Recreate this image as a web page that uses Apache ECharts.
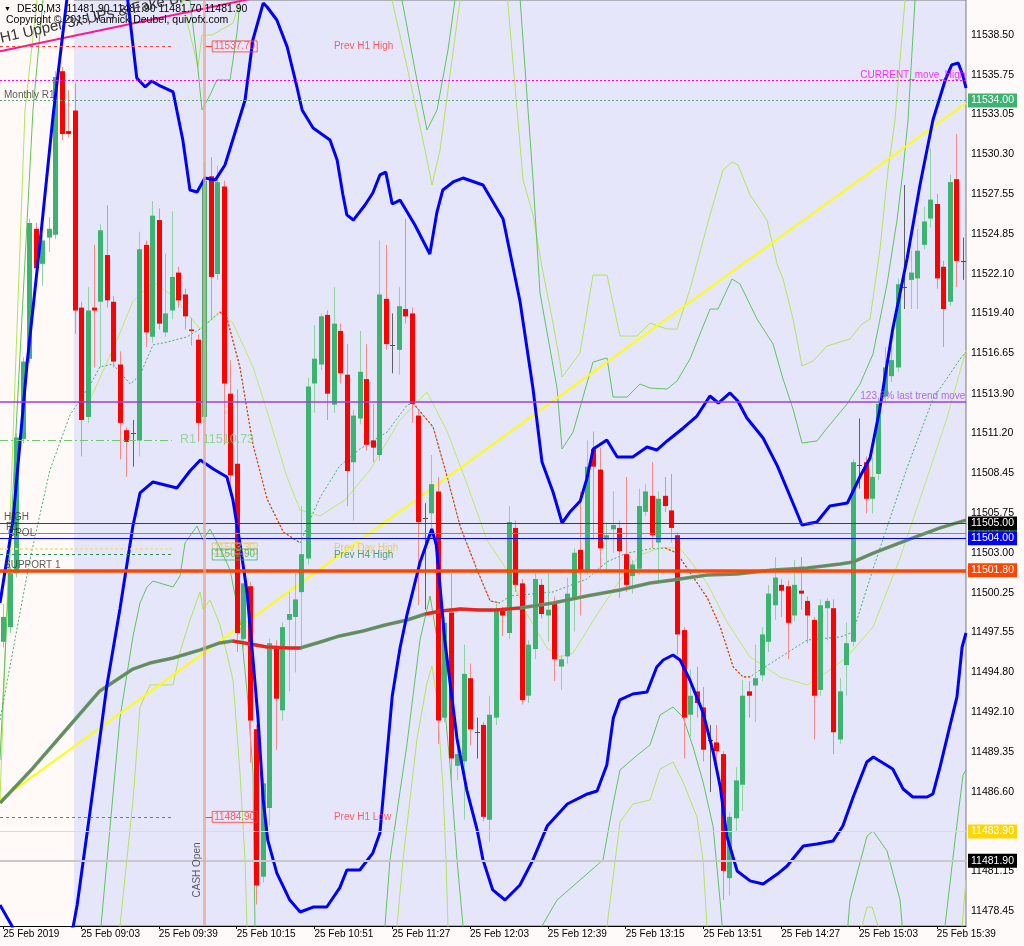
<!DOCTYPE html>
<html><head><meta charset="utf-8">
<script src="https://cdn.jsdelivr.net/npm/echarts@6/dist/echarts.min.js"></script>
<style>html,body{margin:0;padding:0;background:#FFFAFA}#c{width:1024px;height:946px}</style>
</head><body><div id="c"></div>
<script>
// ---------------- DATA ----------------
const barCount = 149;
const firstBarMinutes = 8 * 60 + 27;   // 08:27, M3 bars
const barStepMinutes = 3;
const xTickLabels = ['25 Feb 2019','25 Feb 09:03','25 Feb 09:39','25 Feb 10:15','25 Feb 10:51','25 Feb 11:27','25 Feb 12:03','25 Feb 12:39','25 Feb 13:15','25 Feb 13:51','25 Feb 14:27','25 Feb 15:03','25 Feb 15:39'];
const yTickValues = [11478.45,11481.15,11486.60,11489.35,11492.10,11494.80,11497.55,11500.25,11503.00,11505.75,11508.45,11511.20,11513.90,11516.65,11519.40,11522.10,11524.85,11527.55,11530.30,11533.05,11535.75,11538.50];
const priceMin = 11477.42, priceMax = 11540.88;

// candles: [open, high, low, close]
const candles = [
[11496.9,11499.5,11496.5,11498.6],[11497.9,11502.0,11497.5,11501.6],[11501.6,11511.2,11501.3,11510.9],[11510.8,11516.4,11510.5,11516.1],
[11516.3,11525.9,11516.0,11525.6],[11525.2,11525.6,11522.0,11522.5],[11522.8,11524.8,11521.3,11524.4],[11524.6,11526.0,11523.6,11525.2],
[11524.8,11536.0,11524.5,11535.6],[11536.0,11536.3,11531.3,11531.7],[11531.9,11534.7,11531.5,11531.7],[11533.3,11535.2,11518.0,11519.6],
[11519.8,11520.2,11509.6,11512.1],[11512.3,11521.2,11511.9,11519.6],[11519.8,11524.1,11515.7,11519.6],[11520.2,11525.5,11515.7,11525.1],
[11523.4,11526.8,11519.8,11520.3],[11520.2,11520.6,11515.7,11516.1],[11515.9,11516.8,11509.4,11511.9],[11511.4,11511.6,11508.2,11510.6],
[11511.2,11512.1,11508.9,11511.2],[11510.7,11525.0,11509.6,11523.8],[11524.1,11524.4,11517.1,11518.1],[11517.8,11527.1,11517.4,11526.1],
[11525.8,11526.6,11518.3,11518.7],[11518.1,11523.5,11517.8,11519.4],[11519.6,11526.4,11519.0,11521.9],[11522.2,11522.6,11519.8,11520.3],
[11520.7,11521.1,11518.3,11519.2],[11518.3,11519.1,11517.2,11518.2],[11517.6,11518.0,11510.6,11511.9],[11512.3,11529.8,11511.9,11528.5],
[11528.8,11530.1,11519.0,11521.9],[11522.1,11529.5,11521.7,11528.4],[11528.1,11528.5,11510.4,11514.6],[11513.9,11516.2,11506.9,11508.3],
[11509.1,11514.2,11496.2,11497.5],[11497.1,11500.9,11496.4,11500.9],[11500.7,11501.0,11488.6,11491.5],[11490.9,11491.2,11478.9,11480.2],
[11480.8,11487.6,11480.4,11487.2],[11485.5,11497.1,11484.3,11496.8],[11496.6,11497.0,11489.5,11493.0],[11492.2,11498.2,11491.5,11497.9],
[11498.4,11500.3,11493.5,11498.8],[11498.6,11501.6,11494.8,11499.8],[11500.3,11506.2,11496.3,11502.9],[11502.6,11515.0,11502.2,11514.4],
[11514.6,11518.6,11512.6,11516.3],[11515.9,11519.4,11515.5,11519.2],[11519.3,11519.6,11512.1,11513.9],[11513.15,11521.2,11512.6,11518.7],
[11518.2,11518.7,11514.6,11515.3],[11515.2,11517.3,11506.2,11508.6],[11509.2,11512.8,11505.2,11512.4],[11512.2,11518.2,11511.8,11515.4],
[11514.9,11517.3,11510.0,11510.4],[11510.7,11513.2,11509.2,11510.2],[11509.7,11524.4,11509.3,11520.7],[11520.4,11524.1,11516.9,11517.3],
[11517.25,11519.4,11515.3,11517.25],[11516.9,11521.2,11515.2,11519.9],[11519.7,11525.9,11518.7,11519.2],[11519.4,11519.8,11511.9,11513.2],
[11512.4,11512.8,11499.4,11505.1],[11505.4,11506.4,11499.1,11505.4],[11505.7,11509.7,11504.0,11507.7],[11507.2,11508.2,11489.9,11491.5],
[11491.7,11498.6,11491.4,11498.2],[11498.9,11501.6,11487.2,11488.9],[11488.4,11489.8,11487.4,11489.2],[11488.7,11496.7,11484.7,11494.7],
[11494.4,11495.4,11489.8,11490.9],[11490.7,11491.7,11488.9,11490.7],[11491.2,11491.4,11484.6,11484.9],[11484.7,11493.2,11483.2,11491.9],
[11491.7,11499.5,11491.2,11499.1],[11499.1,11499.3,11497.3,11498.7],[11497.5,11506.2,11497.1,11505.1],[11504.7,11505.2,11500.3,11500.8],
[11500.9,11501.2,11492.6,11492.9],[11493.2,11497.0,11492.7,11496.7],[11496.4,11501.6,11495.7,11501.2],[11500.8,11501.2,11498.5,11498.8],
[11498.7,11501.6,11496.9,11499.1],[11499.6,11500.0,11494.2,11495.7],[11495.2,11496.0,11493.6,11495.7],[11495.9,11501.3,11495.4,11500.2],
[11499.9,11503.3,11497.6,11503.0],[11503.2,11507.2,11498.7,11501.8],[11501.8,11510.7,11501.5,11508.9],[11510.1,11511.3,11503.9,11508.9],
[11508.7,11510.2,11501.9,11503.3],[11503.9,11505.1,11501.6,11504.2],[11504.6,11507.2,11503.0,11504.9],[11504.7,11505.2,11499.9,11503.1],
[11502.9,11508.2,11500.3,11500.8],[11501.4,11502.5,11500.2,11502.2],[11501.9,11507.4,11501.5,11506.2],[11505.8,11507.7,11505.5,11507.2],
[11506.9,11509.2,11503.3,11504.2],[11503.7,11507.2,11500.9,11506.7],[11506.9,11508.2,11505.8,11506.2],[11505.9,11508.4,11503.7,11504.7],
[11504.2,11504.4,11496.0,11497.4],[11497.7,11497.9,11488.9,11491.7],[11491.9,11495.0,11490.4,11493.2],[11493.5,11495.2,11491.7,11492.7],
[11492.4,11493.8,11488.7,11489.5],[11490.2,11491.2,11486.6,11490.2],[11490.0,11491.2,11488.7,11489.4],[11489.2,11489.4,11479.2,11481.2],
[11480.7,11485.2,11479.5,11484.9],[11484.8,11488.3,11483.9,11487.4],[11487.1,11494.3,11485.3,11493.2],[11493.5,11494.2,11491.7,11493.2],
[11493.9,11496.7,11491.4,11494.4],[11494.6,11497.9,11494.2,11497.4],[11496.9,11500.8,11496.2,11500.2],[11499.4,11502.7,11498.4,11501.3],
[11500.8,11501.2,11498.6,11500.4],[11500.7,11501.1,11495.7,11498.2],[11498.7,11502.5,11498.3,11500.8],[11500.4,11502.7,11499.1,11500.2],
[11499.7,11500.0,11496.8,11498.7],[11498.4,11498.6,11490.2,11493.2],[11493.6,11499.8,11493.2,11499.4],[11499.2,11499.9,11497.0,11499.7],
[11499.2,11499.8,11489.2,11490.7],[11490.2,11494.4,11489.9,11493.5],[11495.3,11498.2,11493.2,11496.8],[11496.9,11509.4,11496.6,11509.2],
[11509.0,11512.2,11507.4,11509.0],[11509.2,11509.6,11505.7,11506.7],[11506.7,11509.6,11505.7,11508.2],[11508.4,11513.6,11508.0,11513.2],
[11513.7,11517.1,11513.3,11515.7],[11515.1,11517.2,11514.7,11516.2],[11515.7,11521.8,11515.4,11521.4],[11521.2,11528.2,11519.7,11521.2],
[11521.7,11523.7,11519.7,11522.2],[11521.8,11525.2,11519.7,11523.7],[11524.1,11526.7,11523.8,11525.7],[11525.9,11530.7,11525.3,11527.2],
[11526.9,11527.6,11521.1,11521.8],[11522.6,11523.0,11517.1,11519.7],[11520.2,11528.9,11519.9,11528.4],[11528.6,11531.7,11521.2,11523.0],
[11523.0,11524.6,11521.7,11523.0]
];

// indicator polylines: [bar position, price]
const bbUpper = [[-0.5,11499.56],[1.5,11505.18],[3.7,11516.07],[5.7,11524.36],[7.7,11533.00],[9.8,11540.88],[14.5,11546.36],[19.2,11540.88],[20.6,11535.53],[21.9,11534.92],[22.9,11535.33],[24.2,11534.99],[26.2,11534.58],[27.7,11531.29],[28.8,11527.86],[29.9,11527.72],[31.1,11528.68],[32.7,11528.54],[34.2,11529.57],[35.4,11531.29],[37.3,11534.03],[38.5,11538.14],[40.1,11540.67],[40.7,11540.40],[42.2,11539.51],[43.8,11537.66],[45.3,11534.92],[46.1,11533.34],[47.8,11532.11],[50.4,11531.29],[51.5,11529.92],[52.4,11527.52],[53.0,11526.15],[54.0,11525.80],[55.8,11526.83],[57.0,11527.65],[58.1,11528.89],[59.0,11529.09],[60.0,11526.90],[61.2,11527.17],[63.5,11525.46],[65.8,11523.47],[66.9,11526.35],[67.8,11527.86],[69.4,11528.41],[70.9,11528.68],[74.0,11528.20],[77.1,11525.87],[79.7,11520.25],[81.7,11514.29],[83.1,11509.22],[84.8,11507.16],[86.2,11505.04],[87.4,11505.79],[89.0,11506.55],[90.0,11508.05],[91.0,11510.11],[93.1,11510.73],[94.7,11509.56],[97.1,11509.56],[99.3,11510.25],[100.8,11510.04],[102.4,11510.66],[104.9,11511.55],[107.0,11512.37],[109.0,11513.74],[110.3,11513.26],[112.1,11513.95],[113.3,11513.40],[114.7,11512.23],[117.2,11510.86],[119.4,11508.95],[121.8,11506.41],[123.2,11504.90],[125.5,11505.11],[127.5,11506.20],[130.2,11506.41],[131.1,11507.23],[132.2,11508.26],[133.7,11509.49],[135.2,11512.85],[137.2,11518.33],[139.4,11523.13],[141.4,11528.20],[143.4,11532.66],[145.3,11535.40],[146.3,11536.43],[147.3,11536.56],[148.0,11535.74],[148.5,11534.85]];
const bbLower = [[-0.5,11478.86],[1.35,11477.42],[5.7,11471.66],[10.8,11477.42],[11.4,11478.86],[13.4,11485.30],[16.0,11493.94],[18.0,11499.15],[20.0,11504.83],[21.1,11507.10],[23.1,11507.85],[26.8,11507.44],[28.8,11508.60],[30.4,11509.36],[32.4,11508.74],[34.5,11508.19],[35.4,11506.68],[36.5,11503.67],[37.6,11500.31],[38.5,11495.79],[39.3,11491.67],[40.1,11486.06],[40.8,11483.31],[42.2,11481.05],[44.2,11479.20],[45.8,11478.38],[47.8,11478.72],[49.9,11478.72],[51.9,11480.03],[53.0,11481.26],[55.0,11481.26],[57.0,11482.42],[58.1,11483.79],[60.0,11493.18],[61.2,11496.47],[62.3,11498.80],[64.3,11502.37],[66.1,11504.63],[66.8,11503.53],[68.1,11497.02],[70.0,11490.24],[71.5,11486.74],[73.1,11484.00],[74.0,11481.95],[75.5,11479.89],[77.4,11479.20],[79.7,11480.23],[81.7,11481.95],[83.9,11484.27],[87.0,11485.78],[90.1,11486.47],[91.6,11486.67],[93.1,11488.46],[94.1,11491.67],[95.1,11492.91],[97.1,11493.32],[99.3,11493.46],[100.8,11495.17],[101.8,11495.65],[103.3,11495.99],[104.4,11495.65],[105.9,11494.28],[107.9,11492.09],[109.5,11489.35],[110.6,11486.95],[111.6,11483.59],[113.2,11481.19],[115.2,11480.51],[117.2,11480.30],[119.4,11480.98],[120.9,11481.53],[123.4,11482.90],[125.5,11483.04],[128.0,11483.25],[129.5,11484.27],[131.1,11486.26],[133.2,11488.66],[134.2,11489.00],[137.2,11488.18],[138.8,11486.81],[140.3,11486.26],[142.5,11486.26],[143.4,11486.47],[144.5,11488.32],[145.6,11490.37],[147.1,11493.11],[147.9,11496.54],[148.5,11497.50]];
const maSlow = [[-0.5,11485.85],[4.6,11488.25],[9.8,11490.92],[14.9,11493.53],[20.0,11495.03],[22.6,11495.44],[26.2,11495.79],[30.4,11496.34],[33.4,11496.82],[35.4,11496.95],[38.1,11496.75],[40.7,11496.54],[44.2,11496.47],[45.8,11496.47],[48.9,11496.88],[51.9,11497.30],[55.5,11497.64],[58.9,11498.05],[62.3,11498.39],[65.1,11498.80],[67.5,11499.01],[70.5,11499.15],[73.5,11499.08],[75.9,11499.08],[79.7,11499.21],[84.8,11499.56],[90.0,11500.04],[95.1,11500.45],[99.8,11500.93],[103.3,11501.13],[108.6,11501.48],[113.2,11501.54],[118.7,11501.82],[124.0,11501.96],[129.1,11502.23],[131.1,11502.37],[134.2,11502.98],[139.4,11503.87],[144.5,11504.70],[148.5,11505.24]];
const maSlowFlatRanges = [[35.4,45.8],[65.1,79.7],[110.0,115.0]];
const maFast = [[-0.5,11491.54],[4.1,11502.50],[7.2,11508.67],[10.3,11512.44],[13.4,11514.50],[14.9,11515.73],[16.9,11515.93],[19.6,11514.56],[21.1,11515.18],[23.1,11517.24],[25.3,11517.44],[28.3,11517.79],[30.4,11518.33],[32.4,11519.09],[33.4,11519.50],[34.5,11519.09],[36.5,11515.73],[38.5,11510.45],[40.7,11506.68],[43.2,11504.42],[45.8,11503.67],[47.3,11505.24],[48.9,11506.82],[51.9,11508.95],[55.0,11510.11],[59.2,11511.27],[62.3,11513.12],[63.2,11513.26],[66.3,11511.62],[68.4,11508.33],[70.5,11504.77],[73.1,11501.82],[75.1,11499.70],[76.6,11499.56],[78.2,11500.04],[84.8,11500.31],[90.0,11501.20],[93.1,11502.37],[96.2,11502.98],[99.8,11503.26],[102.1,11503.33],[103.9,11502.98],[108.6,11499.90],[110.6,11497.91],[112.6,11495.17],[114.1,11494.49],[115.2,11494.49],[116.3,11494.83],[124.0,11497.02],[129.1,11497.23],[131.1,11497.57],[134.2,11501.95],[139.4,11508.81],[143.4,11513.54],[147.6,11516.28],[148.5,11516.76]];
const maFastFallRanges = [[33.4,45.8],[63.2,76.6],[102.1,115.2]];
const midLine = [[13.38,11513.47],[14.92,11514.98],[17.55,11517.58],[20.02,11520.25],[23.10,11521.55],[26.19,11520.59],[30.35,11518.33],[33.44,11519.50],[35.44,11518.74],[38.53,11515.73],[40.69,11512.71],[43.77,11508.19],[45.78,11505.93],[48.86,11505.52],[52.72,11506.62],[56.57,11508.67],[61.20,11512.10],[65.36,11514.02],[68.45,11511.34],[71.53,11507.71],[74.62,11503.87],[77.70,11501.82],[80.79,11498.80],[83.87,11496.47],[85.88,11495.86],[87.89,11496.13],[92.05,11499.08],[95.13,11501.13],[98.22,11502.85],[101.31,11503.33],[104.39,11503.33],[108.55,11500.93],[111.64,11498.25],[115.19,11495.86],[119.81,11494.49],[123.98,11493.94],[127.07,11494.83],[130.15,11495.86],[134.16,11497.91],[138.33,11502.64],[142.49,11508.12],[145.57,11512.24],[148.50,11516.89]];
const outerBandsA = [
 [[-0.5,11486.06],[1.04,11505.24],[2.28,11520.32],[3.36,11533.34],[5.21,11540.88],[5.52,11542.94]],
 [[26.49,11542.94],[27.57,11540.88],[30.04,11536.29],[30.66,11538.48],[32.20,11538.48],[35.44,11539.30],[36.52,11540.88],[37.29,11542.94]],
 [[17.55,11475.09],[18.01,11477.42],[20.02,11486.06],[21.10,11492.43],[22.64,11493.94],[26.19,11493.94],[27.27,11496.20],[28.81,11498.39],[30.35,11500.31],[30.81,11499.15],[31.89,11499.76],[33.44,11498.05],[35.44,11494.28],[36.52,11487.91],[37.29,11481.95],[37.60,11477.42],[37.76,11475.09]],
 [[58.89,11542.94],[59.97,11540.88],[62.74,11535.40],[65.06,11530.60],[66.14,11528.20],[67.37,11530.60],[69.22,11536.77],[70.46,11540.88],[71.23,11542.94]],
 [[60.12,11475.09],[60.74,11477.42],[61.66,11481.95],[63.82,11490.24],[65.36,11494.08],[66.14,11495.24],[66.91,11492.91],[67.83,11486.95],[68.30,11481.95],[68.60,11477.42],[68.91,11475.09]],
 [[77.40,11542.94],[80.18,11528.54],[81.72,11526.15],[83.10,11522.58],[84.80,11518.74],[85.88,11516.07],[86.19,11515.04],[88.96,11516.69],[90.97,11522.03],[93.13,11522.03],[95.13,11517.85],[97.76,11517.85],[99.76,11518.74],[102.38,11518.33],[103.93,11518.33],[105.93,11521.07],[109.02,11526.15],[111.02,11529.23],[112.41,11529.78],[113.34,11529.57],[115.19,11527.52],[117.81,11525.80],[119.36,11522.79],[120.28,11521.76],[121.82,11519.02],[123.21,11515.80],[124.91,11516.14],[127.07,11517.17],[130.61,11517.65],[132.46,11518.68],[133.70,11519.02],[135.24,11523.82],[136.47,11529.23],[137.55,11532.66],[139.10,11540.88],[139.87,11542.94]],
 [[92.66,11475.09],[93.13,11477.42],[95.13,11484.55],[97.14,11485.78],[99.76,11486.06],[101.31,11488.18],[103.31,11488.66],[104.85,11487.29],[107.01,11484.89],[107.94,11481.95],[108.55,11477.42],[108.86,11475.09]],
 [[131.84,11475.09],[132.46,11477.42],[133.24,11478.72],[134.01,11478.72],[134.93,11477.42],[135.24,11475.09]],
 [[147.27,11475.09],[147.89,11477.42],[148.50,11480.57]]
];
const outerBandsB = [
 [[-0.5,11488.80],[1.81,11510.04],[3.36,11523.06],[4.59,11533.34],[6.13,11540.88],[6.44,11542.94]],
 [[28.04,11542.94],[28.81,11540.88],[29.89,11536.77],[30.66,11533.34],[31.89,11534.37],[32.97,11535.40],[34.98,11535.40],[36.06,11538.62],[36.52,11540.88],[36.98,11542.94]],
 [[14.62,11475.09],[15.08,11477.42],[18.01,11491.68],[20.02,11497.30],[21.10,11499.56],[22.17,11500.65],[23.10,11501.06],[26.19,11500.65],[27.27,11501.41],[28.04,11503.67],[29.89,11504.83],[30.81,11503.87],[31.89,11504.63],[33.44,11503.33],[34.98,11501.82],[36.52,11498.39],[37.60,11493.53],[38.53,11487.91],[38.68,11481.95],[38.83,11477.42],[38.99,11475.09]],
 [[60.43,11542.94],[61.51,11540.88],[63.51,11536.08],[65.36,11531.97],[66.91,11533.34],[68.60,11537.45],[69.68,11540.88],[70.46,11542.94]],
 [[58.11,11475.09],[58.88,11477.42],[59.65,11481.95],[62.28,11489.90],[64.28,11497.02],[65.83,11500.04],[67.37,11495.86],[68.91,11488.46],[69.99,11481.95],[70.92,11477.42],[71.38,11475.09]],
 [[79.40,11542.94],[81.72,11528.54],[82.79,11520.80],[85.42,11514.29],[86.19,11510.11],[87.89,11511.27],[89.43,11513.67],[90.97,11516.07],[93.13,11516.35],[94.06,11513.67],[96.21,11513.67],[98.22,11514.56],[99.76,11514.29],[102.38,11514.22],[103.93,11514.77],[105.93,11516.28],[109.02,11519.70],[110.25,11519.70],[112.41,11521.76],[113.64,11521.42],[116.26,11519.02],[118.73,11517.31],[120.28,11514.91],[121.82,11512.85],[123.21,11510.52],[125.52,11510.66],[127.07,11511.55],[130.15,11513.19],[132.15,11514.56],[134.16,11516.62],[136.32,11521.42],[137.86,11525.80],[138.79,11529.23],[139.56,11532.66],[140.64,11540.88],[141.41,11542.94]],
 [[82.48,11475.09],[83.10,11477.42],[85.42,11479.20],[88.96,11480.57],[92.51,11481.95],[94.06,11485.78],[95.13,11488.11],[97.45,11489.00],[99.76,11489.83],[101.31,11491.88],[103.31,11492.43],[104.85,11491.74],[106.40,11489.69],[107.94,11487.29],[109.48,11484.27],[110.56,11479.20],[111.33,11475.09]],
 [[129.84,11475.09],[130.61,11479.20],[133.24,11483.59],[134.16,11483.93],[136.32,11482.56],[138.33,11479.20],[139.10,11475.09]],
 [[144.49,11475.09],[145.26,11477.42],[146.81,11483.31],[148.04,11487.77],[148.50,11488.11]]
];
const trendLine = [[-0.5,11486.06],[148.5,11533.82]];
const h1UpperLine = [[-0.5,11537.36],[45.8,11541.67]];

// levels
const prevH1High = 11537.70, prevH1Low = 11484.90;
const prevDayHigh = 11503.30, prevH4High = 11502.90;
const currentMoveHigh = 11535.40, monthlyR1 = 11534.00;
const fib1236 = 11513.33, r1Level = 11510.73;
const dayHigh = 11505.00, dailyR1 = 11504.35, cpol = 11504.00, support1 = 11501.80;
const yellowLevel = 11483.90, lastPrice = 11481.90;
const shortLevelSpan = [-0.5, 26.0];
const levelBoxBar = 35.7, levelTickSpan = [31.1, 32.2], levelTextBar = 51.0;
const sessionPreBars = [-0.5, 10.9];
const cashOpenBar = 31;

// ---------------- CHART ----------------
const FONT = 'Liberation Sans';
const categories = [];
for (let i = 0; i < barCount; i++) {
  const m = firstBarMinutes + barStepMinutes * i;
  categories.push('25 Feb ' + String(Math.floor(m / 60)).padStart(2, '0') + ':' + String(m % 60).padStart(2, '0'));
}

function renderCandle(params, api) {
  const i = api.value(0), o = api.value(1), h = api.value(2), l = api.value(3), c = api.value(4);
  const pH = api.coord([i, h]), pL = api.coord([i, l]), pO = api.coord([i, o]), pC = api.coord([i, c]);
  const cx = Math.round(pH[0]) + 0.5;
  let body, wick;
  if (c > o) { body = '#3CB371'; wick = '#8FD3A5'; }
  else if (c < o) { body = '#FF0000'; wick = '#F48A8A'; }
  else { body = '#505050'; wick = '#606060'; }
  const ch = [{ type: 'line', shape: { x1: cx, y1: pH[1], x2: cx, y2: pL[1] }, style: { stroke: wick, lineWidth: 1 } }];
  if (c === o) {
    ch.push({ type: 'line', shape: { x1: cx - 2.5, y1: Math.round(pO[1]) + 0.5, x2: cx + 2.5, y2: Math.round(pO[1]) + 0.5 }, style: { stroke: body, lineWidth: 1 } });
  } else {
    const top = Math.min(pO[1], pC[1]);
    const hgt = Math.max(1, Math.abs(pO[1] - pC[1]));
    ch.push({ type: 'rect', shape: { x: cx - 2.5, y: top, width: 5, height: hgt }, style: { fill: body } });
  }
  return { type: 'group', children: ch };
}

function poly(data, color, width, z, type, opacity) {
  return { type: 'line', xAxisIndex: 1, yAxisIndex: 0, data: data, showSymbol: false, symbol: 'none', silent: true,
    z: z, animation: false, clip: true,
    lineStyle: { color: color, width: width, type: type || 'solid', opacity: opacity == null ? 1 : opacity } };
}
function subRange(data, r) { return data.filter(p => p[0] >= r[0] - 0.01 && p[0] <= r[1] + 0.01); }

function txt(B, P, text, color, opt) {
  return { value: [B, P], label: Object.assign({ show: true, formatter: text, color: color, fontFamily: FONT, fontSize: 10,
    position: 'inside', align: 'left', verticalAlign: 'middle' }, opt || {}) };
}
function box(B, P, text, color) {
  return txt(B, P, text, color, { align: 'center', borderColor: color, borderWidth: 1, padding: [1, 2, 0, 2] });
}
function tag(price, bg, fg) {
  return { show: true, position: 'end', distance: 2, formatter: price.toFixed(2), backgroundColor: bg, color: fg,
    padding: [2, 3, 1, 3], fontFamily: FONT, fontSize: 10.5 };
}
function hline(price, color, width, type, label) {
  const o = { yAxis: price, lineStyle: { color: color, width: width, type: type } };
  o.label = label || { show: false };
  return o;
}
function seg(b0, b1, price, color, width, type) {
  return [{ coord: [b0, price], lineStyle: { color: color, width: width, type: type }, label: { show: false } }, { coord: [b1, price] }];
}

const series = [];
series.push({ type: 'line', xAxisIndex: 1, data: [], z: 0, silent: true,
  markArea: { silent: true, itemStyle: { color: '#FFFAF7' }, data: [[{ xAxis: sessionPreBars[0] }, { xAxis: sessionPreBars[1] }]] } });
series.push({ type: 'line', xAxisIndex: 1, data: [], z: 1, silent: true,
  markLine: { silent: true, symbol: ['none', 'none'], animation: false, precision: 2,
    data: [
      hline(currentMoveHigh, '#FF00FF', 1, [2, 2]),
      hline(monthlyR1, '#5FA080', 1, [2, 2], tag(monthlyR1, '#3CB371', '#FFFFFF')),
      hline(fib1236, '#9D3FE0', 1.5, 'solid'),
      hline(dailyR1, '#3CB371', 1, 'solid', tag(dailyR1, '#3CB371', '#FFFFFF')),
      hline(dayHigh, '#404040', 1, 'solid', tag(dayHigh, '#000000', '#FFFFFF')),
      hline(cpol, '#0000FF', 1, 'solid', tag(cpol, '#0000FF', '#FFFFFF')),
      hline(support1, '#FF4500', 3.5, 'solid', tag(support1, '#FF4500', '#FFFFFF')),
      hline(yellowLevel, '#F5E070', 1, 'solid', tag(yellowLevel, '#FFD700', '#FFFFFF')),
      hline(lastPrice, '#C8C8C8', 2, 'solid', tag(lastPrice, '#000000', '#FFFFFF')),
      seg(shortLevelSpan[0], shortLevelSpan[1], prevH1High, '#FF4040', 1, [3, 3]),
      seg(shortLevelSpan[0], shortLevelSpan[1], prevH1Low, '#FF4040', 1, [3, 3]),
      seg(shortLevelSpan[0], shortLevelSpan[1], prevDayHigh, '#F5E070', 1.5, [3, 2]),
      seg(shortLevelSpan[0], shortLevelSpan[1], prevH4High, '#2E8B57', 1, [3, 3]),
      seg(shortLevelSpan[0], shortLevelSpan[1], r1Level, '#6CCB6C', 1, [8, 3, 2, 3]),
      seg(levelTickSpan[0], levelTickSpan[1], prevH1High, '#FF4040', 1, 'solid'),
      seg(levelTickSpan[0], levelTickSpan[1], prevH1Low, '#FF4040', 1, 'solid'),
      { xAxis: cashOpenBar, lineStyle: { color: 'rgba(232,168,150,0.75)', width: 3, type: 'solid' }, label: { show: false } }
    ] } });
outerBandsA.forEach(d => series.push(poly(d, '#B2E35A', 1, 2)));
outerBandsB.forEach(d => series.push(poly(d, '#5DC45D', 1, 2)));
series.push(poly(midLine, '#BDEB64', 1, 2));
series.push(poly(maFast, '#3CB371', 1, 2, [2, 2]));
maFastFallRanges.forEach(r => series.push(poly(subRange(maFast, r), '#FF3300', 1.2, 2.1, [2, 2])));
series.push(poly(trendLine, '#FFFF00', 2, 2.5));
series.push(poly(h1UpperLine, '#FF1493', 2, 2.5));
series.push({ type: 'custom', xAxisIndex: 0, yAxisIndex: 0, renderItem: renderCandle, silent: true, z: 3, animation: false,
  encode: { x: 0, y: [1, 2, 3, 4] }, data: candles.map((d, i) => [i, d[0], d[1], d[2], d[3]]) });
series.push(poly(maSlow, '#5C9A6A', 3.5, 3.5));
series.push(poly(maSlow, '#A0584A', 1, 3.6, 'solid', 0.6));
maSlowFlatRanges.forEach(r => series.push(poly(subRange(maSlow, r), '#FF1A1A', 3, 3.7)));
series.push(poly(bbUpper, '#0000FF', 3, 4));
series.push(poly(bbLower, '#0000FF', 3, 4));
series.push({ type: 'scatter', xAxisIndex: 1, yAxisIndex: 0, symbolSize: 1, itemStyle: { color: 'rgba(0,0,0,0)' }, silent: true, z: 6, animation: false,
  data: [
    txt(levelTextBar, prevH1High, 'Prev H1 High', '#FF3B3B'),
    txt(levelTextBar, prevH1Low, 'Prev H1 Low', '#FF3B3B'),
    txt(levelTextBar, 11503.33, 'Prev Day High', '#E8C440'),
    txt(levelTextBar, 11502.85, 'Prev H4 High', '#2E8B57'),
    box(levelBoxBar, prevH1High, prevH1High.toFixed(2), '#FF3B3B'),
    box(levelBoxBar, prevH1Low, prevH1Low.toFixed(2), '#FF3B3B'),
    box(levelBoxBar, 11503.29, prevDayHigh.toFixed(2), '#E8C440'),
    box(levelBoxBar, 11502.88, prevH4High.toFixed(2), '#3CB371'),
    txt(148.4, 11535.75, 'CURRENT_move_High', '#FF00FF', { align: 'right' }),
    txt(148.4, 11513.74, '123.6% last trend move', '#9D4FE0', { align: 'right' }),
    txt(0.12, 11534.37, 'Monthly R1', '#333333'),
    txt(0.12, 11505.45, 'HIGH', '#333333'),
    txt(0.43, 11504.77, 'R1', '#333333'),
    txt(0.73, 11504.35, 'CPOL', '#333333'),
    txt(0.12, 11502.16, 'SUPPORT 1', '#333333'),
    txt(27.25, r1Level, 'R1  ' + r1Level.toFixed(2), '#7ED27E', { fontSize: 12.5 }),
    txt(30.0, 11481.26, 'CASH Open', '#333333', { align: 'center', rotate: 90 })
  ] });

const option = {
  animation: false,
  backgroundColor: '#FFFAFA',
  grid: { left: 0, right: 58, top: 0, bottom: 20, show: true, backgroundColor: '#E6E6FA', borderColor: '#7A7A7A', borderWidth: 1 },
  xAxis: [
    { type: 'category', data: categories, boundaryGap: true,
      axisLine: { show: true, lineStyle: { color: '#000' } },
      axisTick: { show: true, alignWithLabel: true, interval: (i) => i % 12 === 0, length: 3, lineStyle: { color: '#000' } },
      axisLabel: { interval: (i) => i % 12 === 0, formatter: (v, i) => xTickLabels[Math.round(i / 12)], align: 'left',
        margin: 3, color: '#000', fontFamily: FONT, fontSize: 10 },
      splitLine: { show: false } },
    { type: 'value', min: sessionPreBars[0], max: barCount - 0.5, show: false }
  ],
  yAxis: [{ type: 'value', position: 'right', min: priceMin, max: priceMax,
    axisLine: { show: true, lineStyle: { color: '#000' } }, splitLine: { show: false },
    axisTick: { show: true, customValues: yTickValues, length: 3, lineStyle: { color: '#000' } },
    axisLabel: { customValues: yTickValues, formatter: (v) => Number(v).toFixed(2), color: '#000', fontFamily: FONT, fontSize: 10.5, margin: 5 } }],
  graphic: [
    { type: 'text', x: 4, y: 6, z: 100, style: { text: '\u25BC', fill: '#000', font: '7px ' + FONT } },
    { type: 'text', x: 17, y: 4, z: 100, style: { text: 'DE30,M3  11481.90 11481.90 11481.70 11481.90', fill: '#000', font: '10.5px ' + FONT } },
    { type: 'text', x: 6, y: 15, z: 100, style: { text: 'Copyright \u00A9 2015, Yannick Deubel, quivofx.com', fill: '#000', font: '10.5px ' + FONT } },
    { type: 'text', x: 2, y: 46, rotation: 0.22, z: 100, style: { text: 'H1 Upper 3x UPs & Fake Break', fill: '#333', font: '15px ' + FONT, verticalAlign: 'bottom', textVerticalAlign: 'bottom' } }
  ],
  series: series
};
const chart = echarts.init(document.getElementById('c'), null, { renderer: 'canvas' });
chart.setOption(option);
</script></body></html>
